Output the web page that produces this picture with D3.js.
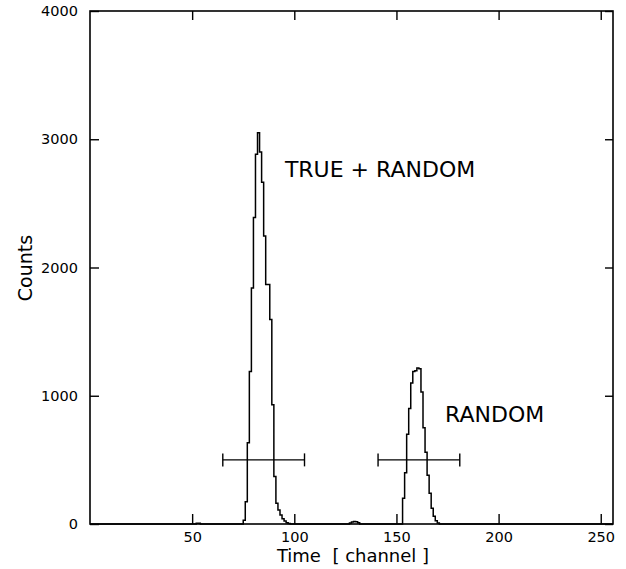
<html>
<head>
<title>Time spectrum</title>
<script src="https://d3js.org/d3.v7.min.js"></script>
<style>
    body{ margin:0; background:#fff; }
    text{ font-family:"DejaVu Sans", sans-serif; fill:#000; }
    .frame{ fill:none; stroke:#000; stroke-width:1.6; }
    .hist{ fill:none; stroke:#000; stroke-width:1.5; }
    .win{ stroke:#000; stroke-width:1.4; }
    .axis path{ display:none; }
    .axis line{ stroke:#000; stroke-width:1.4; }
</style>
</head>
<body>
<script>
var width = 626, height = 569;
var mLeft = 90, mRight = 613, mTop = 11, mBottom = 524;

// channels / counts
var trueChannels = [75,76,77,78,79,80,81,82,83,84,85,86,87,88,89,90,91,92,93,94,95,96,97];
var trueCounts   = [30,174,633,1190,1841,2390,2883,3050,2900,2664,2245,1867,1867,1594,930,370,162,110,70,40,23,10,4];

var randChannels = [153,154,155,156,157,158,159,160,161,162,163,164,165,166,167,168,169,170];
var randCounts   = [200,400,700,900,1100,1190,1195,1216,1210,1030,750,560,380,240,122,60,25,8];

var noiseChannels = [52,53,127,128,129,130,131];
var noiseCounts   = [5,6,8,15,20,18,10];

// timing windows (channel range) drawn at half height
var winLo = [65,141];
var winHi = [105,181];
var winLevel = 500;

var xTicks = [50,100,150,200,250];
var yTicks = [0,1000,2000,3000,4000];

var labels = [
    {text:"TRUE + RANDOM", ch:95.4, n:2703},
    {text:"RANDOM",        ch:173.8, n:799}
];

var svg = d3.select("body").append("svg")
            .attr("width", width)
            .attr("height", height);

var x = d3.scaleLinear().domain([0,256]).range([mLeft,mRight]);
var y = d3.scaleLinear().domain([0,4000]).range([mBottom,mTop]);

// full spectrum, 0 where nothing was read
var counts = new Array(256).fill(0);
function fill(chs, ns){
    for(var i=0;i<chs.length;i++){ counts[chs[i]] = ns[i]; }
}
fill(trueChannels, trueCounts);
fill(randChannels, randCounts);
fill(noiseChannels, noiseCounts);

var pts = counts.map(function(n,c){ return [c,n]; });
pts.push([256,0]);

var line = d3.line()
             .x(function(d){ return x(d[0]); })
             .y(function(d){ return y(d[1]); })
             .curve(d3.curveStepAfter);

svg.append("path")
   .attr("class","hist")
   .attr("d", line(pts));

// axes, ticks pointing inwards
svg.append("g").attr("class","axis")
   .attr("transform","translate(0,"+mBottom+")")
   .call(d3.axisBottom(x).tickValues(xTicks).tickSizeInner(-10).tickSizeOuter(0).tickPadding(8))
   .selectAll("text").style("font-size","14.5px").style("font-family","DejaVu Sans").attr("fill","#000");

svg.append("g").attr("class","axis")
   .attr("transform","translate(0,"+mTop+")")
   .call(d3.axisTop(x).tickValues(xTicks).tickSizeInner(-9).tickSizeOuter(0).tickFormat(""));

svg.append("g").attr("class","axis")
   .attr("transform","translate("+mLeft+",0)")
   .call(d3.axisLeft(y).tickValues(yTicks).tickSizeInner(-9).tickSizeOuter(0).tickPadding(12).tickFormat(d3.format("d")))
   .selectAll("text").style("font-size","14.5px").style("font-family","DejaVu Sans").attr("fill","#000");

svg.append("g").attr("class","axis")
   .attr("transform","translate("+mRight+",0)")
   .call(d3.axisRight(y).tickValues(yTicks).tickSizeInner(-8).tickSizeOuter(0).tickFormat(""));

svg.append("rect")
   .attr("class","frame")
   .attr("x", mLeft).attr("y", mTop)
   .attr("width", mRight-mLeft).attr("height", mBottom-mTop);

// windows
for(var i=0;i<winLo.length;i++){
    var yy = y(winLevel);
    svg.append("line").attr("class","win")
       .attr("x1", x(winLo[i])).attr("x2", x(winHi[i]))
       .attr("y1", yy).attr("y2", yy);
    [winLo[i], winHi[i]].forEach(function(c){
        svg.append("line").attr("class","win")
           .attr("x1", x(c)).attr("x2", x(c))
           .attr("y1", yy-6.5).attr("y2", yy+6.5);
    });
}

labels.forEach(function(l){
    svg.append("text")
       .attr("x", x(l.ch)).attr("y", y(l.n))
       .style("font-size","22px")
       .text(l.text);
});

svg.append("text")
   .attr("x", 353).attr("y", 562)
   .attr("text-anchor","middle")
   .style("font-size","18px")
   .style("white-space","pre")
   .text("Time  [ channel ]");

svg.append("text")
   .attr("transform","translate(32,268) rotate(-90)")
   .attr("text-anchor","middle")
   .style("font-size","19px")
   .text("Counts");
</script>
</body>
</html>
